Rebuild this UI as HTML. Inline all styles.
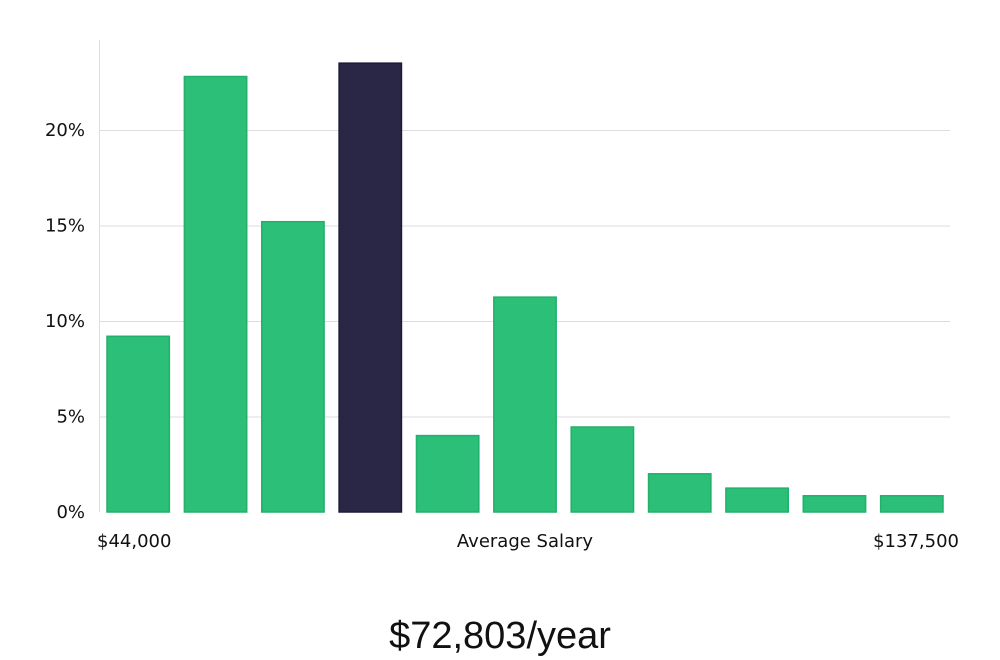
<!DOCTYPE html>
<html><head><meta charset="utf-8"><style>
html,body{margin:0;padding:0;background:#fff;}
svg{display:block;font-family:"DejaVu Sans","Liberation Sans",sans-serif;}
</style></head><body>
<svg id="chart" width="1000" height="660" viewBox="0 0 1000 660">
<g id="grid"></g>
<line x1="99.5" y1="40" x2="99.5" y2="512" stroke="#dddddd"/>
<g id="bars"></g>
<g id="yticks"></g>
<text x="97" y="547" font-size="18" fill="#111">$44,000</text>
<text x="525" y="547" font-size="18" fill="#111" text-anchor="middle">Average Salary</text>
<text x="959" y="547" font-size="18" fill="#111" text-anchor="end">$137,500</text>
<text x="500" y="648" font-size="38" fill="#111" text-anchor="middle" font-family="Liberation Sans, sans-serif" style="font-weight:300">$72,803/year</text>
</svg>
<script>
const values = [9.2, 22.8, 15.2, 23.5, 4.0, 11.25, 4.45, 2.0, 1.25, 0.85, 0.85];
const highlightIndex = [3];
const tickValues = [0, 5, 10, 15, 20];
const tickLabels = ["0%", "5%", "10%", "15%", "20%"];
const NS = "http://www.w3.org/2000/svg";
const x0 = 99, x1 = 950, y0 = 512, pxPerPct = 19.1;
const slot = (x1 - x0) / values.length;
function yScale(v){ return y0 - v * pxPerPct; }
function xScale(i){ return x0 + i * slot + 8; }
const grid = document.getElementById('grid');
const yt = document.getElementById('yticks');
tickValues.forEach((t, i) => {
  const y = yScale(t);
  if (t > 0) {
    const l = document.createElementNS(NS, 'line');
    l.setAttribute('x1', x0); l.setAttribute('x2', x1);
    l.setAttribute('y1', y + 0.5); l.setAttribute('y2', y + 0.5);
    l.setAttribute('stroke', '#dddddd');
    
    
    grid.appendChild(l);
  }
  const tx = document.createElementNS(NS, 'text');
  tx.setAttribute('x', 85); tx.setAttribute('y', y + 6);
  tx.setAttribute('text-anchor', 'end'); tx.setAttribute('font-size', '18'); tx.setAttribute('fill', '#111');
  tx.textContent = tickLabels[i];
  
  
  yt.appendChild(tx);
});
const bars = document.getElementById('bars');
values.forEach((v, i) => {
  const r = document.createElementNS(NS, 'rect');
  const hi = highlightIndex.includes(i);
  r.setAttribute('x', xScale(i)); r.setAttribute('width', slot - 15);
  r.setAttribute('y', yScale(v)); r.setAttribute('height', y0 - yScale(v));
  r.setAttribute('fill', hi ? '#292646' : '#2bbf78');
  r.setAttribute('stroke', hi ? '#1d1a3a' : '#22b06c');
  r.setAttribute('stroke-width', '1.5');
  
  
  bars.appendChild(r);
});
</script>
</body></html>
